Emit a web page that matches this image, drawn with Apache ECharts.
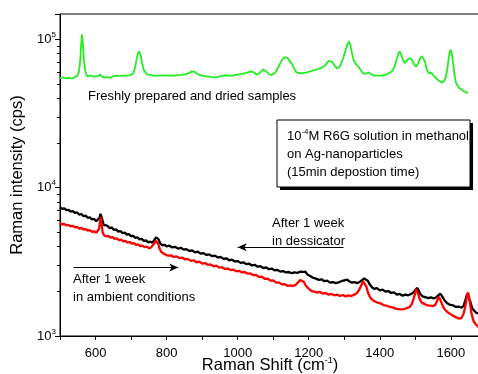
<!DOCTYPE html>
<html>
<head>
<meta charset="utf-8">
<script src="https://cdn.jsdelivr.net/npm/echarts@6/dist/echarts.min.js"></script>
<style>
  html, body { margin: 0; padding: 0; background: #fff; }
  #chart { width: 478px; height: 374px; }
</style>
</head>
<body>
<div id="chart"></div>
<script>
// freshly prepared sample (green)
const fresh = [
  [500,54800],[508,55300],[516,54600],[524,55000],[532,54500],[540,55200],[548,56500],[553,60000],[557,72000],[560,95000],
  [562,108000],[564,96000],[567,74000],[571,61000],[576,56500],[581,55500],[586,56800],[590,57500],[595,56000],[600,55500],
  [605,56200],[610,57500],[613,57800],[618,56000],[624,55300],[632,55600],[640,55200],[648,56000],[656,56800],[666,56600],
  [676,56900],[688,56800],[698,57300],[706,59000],[711,64000],[715,72000],[719,80000],[723,83000],[727,78000],[731,69000],
  [736,62000],[742,59000],[750,57500],[760,57000],[772,56800],[784,56900],[796,56800],[808,57000],[820,56900],[832,57300],
  [844,57600],[856,58200],[864,59300],[870,60500],[876,60800],[882,59500],[890,57800],[900,56800],[912,56300],[924,55800],
  [934,55400],[944,55800],[954,56500],[965,57200],[976,56800],[988,57000],[1000,57800],[1012,58500],[1024,59300],[1034,60200],
  [1041,60600],[1048,59300],[1054,57800],[1060,58500],[1066,61000],[1072,62600],[1077,62300],[1083,59800],[1090,57800],[1097,57600],
  [1104,59000],[1112,63000],[1120,69000],[1127,74000],[1134,75800],[1140,75000],[1147,71000],[1153,68000],[1159,63500],[1165,60000],
  [1172,59200],[1182,59000],[1192,59600],[1202,60400],[1214,61800],[1226,63000],[1236,64300],[1244,66000],[1250,68500],[1256,71500],
  [1261,72800],[1266,70500],[1272,66500],[1279,63800],[1286,64800],[1292,69000],[1298,76000],[1304,85000],[1309,93000],[1313,96500],
  [1317,92000],[1322,80000],[1327,71500],[1334,67500],[1341,65000],[1348,61000],[1355,58400],[1362,59000],[1368,59800],[1374,58500],
  [1382,57000],[1392,56800],[1402,56900],[1412,57200],[1422,58500],[1430,59800],[1436,61500],[1442,66000],[1448,74000],[1452,80000],
  [1456,82800],[1460,79000],[1465,72500],[1470,69000],[1475,70500],[1480,73500],[1486,74800],[1491,72000],[1497,67500],[1503,65500],
  [1508,68500],[1513,74000],[1518,77000],[1522,77200],[1527,71000],[1532,63000],[1538,59000],[1545,59500],[1552,56500],[1559,54600],
  [1566,52500],[1575,51000],[1582,52500],[1587,57000],[1591,66000],[1595,78000],[1599,85000],[1602,82000],[1606,70000],[1610,58000],
  [1614,51500],[1619,48500],[1624,46800],[1630,45800],[1636,44800],[1642,44000],[1648,43300]
];

// after 1 week in dessicator (black)
const dessicator = [
  [500,7380],[506,7200],[512,7260],[518,7050],[524,7080],[530,6880],[536,6950],[542,6760],[548,6800],[554,6580],
  [560,6640],[566,6420],[572,6480],[578,6260],[584,6300],[590,6100],[596,6150],[602,5950],[607,5980],[611,6250],
  [614,6650],[616,6720],[619,6100],[623,5600],[628,5480],[634,5520],[640,5330],[646,5380],[652,5180],[658,5230],
  [664,5050],[670,5100],[676,4940],[682,4980],[688,4820],[694,4860],[700,4700],[706,4740],[712,4590],[718,4630],
  [724,4480],[730,4520],[736,4380],[742,4410],[748,4280],[754,4320],[760,4260],[765,4420],[770,4620],[773,4690],
  [777,4500],[782,4220],[788,4080],[794,4120],[800,4020],[808,4060],[816,3950],[824,3990],[832,3880],[840,3930],
  [848,3820],[856,3850],[864,3740],[872,3770],[880,3660],[888,3700],[896,3590],[904,3620],[912,3520],[920,3550],
  [928,3450],[936,3480],[944,3380],[952,3410],[960,3310],[968,3340],[976,3240],[984,3270],[992,3180],[1000,3200],
  [1008,3110],[1016,3140],[1024,3050],[1032,3080],[1040,2990],[1048,3020],[1056,2930],[1064,2960],[1072,2870],[1080,2900],
  [1088,2820],[1096,2850],[1104,2770],[1112,2790],[1120,2720],[1128,2740],[1136,2680],[1144,2700],[1152,2650],[1160,2680],
  [1168,2660],[1176,2720],[1184,2700],[1190,2720],[1196,2600],[1204,2540],[1212,2470],[1220,2440],[1228,2390],[1236,2410],
  [1244,2340],[1252,2360],[1260,2290],[1268,2310],[1276,2270],[1284,2300],[1292,2340],[1300,2370],[1308,2400],[1314,2340],
  [1320,2290],[1328,2310],[1336,2270],[1344,2320],[1350,2380],[1356,2440],[1361,2470],[1366,2360],[1372,2220],[1378,2130],
  [1384,2080],[1392,2100],[1400,2030],[1408,2050],[1416,1990],[1424,2010],[1432,1950],[1440,1970],[1448,1900],[1456,1920],
  [1464,1870],[1472,1900],[1480,1880],[1488,1920],[1494,1960],[1500,2040],[1505,2110],[1509,2030],[1514,1920],[1520,1850],
  [1528,1830],[1536,1800],[1544,1820],[1552,1790],[1558,1820],[1564,1870],[1570,1930],[1575,1860],[1582,1740],[1590,1660],
  [1598,1620],[1606,1610],[1614,1570],[1622,1580],[1630,1550],[1636,1600],[1641,1750],[1646,1930],[1650,1880],[1655,1700],
  [1660,1540],[1666,1480],[1672,1430],[1678,1420],[1684,1390]
];

// after 1 week in ambient conditions (red)
const ambient = [
  [500,5780],[506,5640],[512,5700],[518,5560],[524,5610],[530,5480],[536,5530],[542,5400],[548,5440],[554,5300],
  [560,5350],[566,5220],[572,5260],[578,5130],[584,5170],[590,5040],[596,5080],[602,4950],[607,4980],[610,5300],
  [613,6000],[615,6300],[617,5700],[620,5000],[624,4780],[630,4700],[636,4730],[642,4600],[648,4640],[654,4510],
  [660,4550],[666,4420],[672,4460],[678,4340],[684,4380],[690,4260],[696,4300],[702,4190],[708,4220],[714,4110],
  [720,4140],[726,4040],[732,4070],[738,3970],[744,4000],[750,3910],[756,3940],[761,4000],[765,4200],[769,4400],
  [772,4430],[776,4200],[780,3900],[785,3680],[790,3580],[796,3540],[804,3480],[812,3500],[820,3410],[828,3440],
  [836,3350],[844,3380],[852,3280],[860,3310],[868,3210],[876,3240],[884,3140],[892,3170],[900,3080],[908,3100],
  [916,3020],[924,3040],[932,2950],[940,2980],[948,2890],[956,2910],[964,2830],[972,2850],[980,2780],[988,2800],
  [996,2730],[1004,2750],[1012,2680],[1020,2700],[1028,2630],[1036,2640],[1044,2570],[1052,2580],[1060,2500],[1068,2510],
  [1076,2430],[1084,2440],[1092,2360],[1100,2370],[1108,2290],[1116,2300],[1124,2230],[1132,2240],[1140,2180],[1148,2190],
  [1156,2170],[1164,2220],[1170,2300],[1176,2380],[1181,2420],[1186,2320],[1192,2180],[1200,2080],[1208,2010],[1216,1990],
  [1224,1960],[1232,1980],[1240,1930],[1248,1950],[1256,1900],[1264,1920],[1272,1880],[1280,1900],[1288,1860],[1296,1890],
  [1304,1850],[1312,1880],[1320,1860],[1328,1900],[1336,1950],[1342,2050],[1348,2200],[1353,2330],[1357,2350],[1362,2160],
  [1367,1950],[1373,1820],[1380,1740],[1388,1700],[1396,1670],[1404,1650],[1412,1610],[1420,1600],[1428,1570],[1436,1560],
  [1444,1530],[1452,1520],[1460,1510],[1468,1520],[1476,1540],[1484,1570],[1490,1640],[1495,1780],[1500,1960],[1503,2070],
  [1507,1950],[1512,1780],[1518,1680],[1526,1640],[1534,1610],[1542,1600],[1550,1590],[1556,1620],[1561,1720],[1566,1840],
  [1570,1760],[1576,1620],[1582,1520],[1590,1450],[1598,1410],[1606,1370],[1614,1340],[1622,1310],[1630,1320],[1636,1420],
  [1641,1600],[1646,1900],[1649,1960],[1653,1720],[1658,1420],[1664,1260],[1670,1200],[1676,1160],[1684,1130]
];

// arrows under the two labels
const dessicatorArrow = [[1298, 3960], [1000, 3960]];
const ambientArrow = [[538, 2900], [833, 2900]];

const FONT = 'Liberation Sans';

const chart = echarts.init(document.getElementById('chart'));

const arrowLine = (pts) => ({
  silent: true,
  symbol: ['none', 'arrow'],
  symbolSize: [6, 9],
  label: { show: false },
  lineStyle: { color: '#000', width: 1, type: 'solid' },
  data: [[{ coord: pts[0] }, { coord: pts[1] }]]
});

chart.setOption({
  animation: false,
  textStyle: { fontFamily: FONT },
  grid: {
    left: 60, top: 14, right: -2, bottom: 38,
    outerBoundsMode: 'none',
    containLabel: false,
    show: true, borderColor: '#000', borderWidth: 1
  },
  xAxis: {
    type: 'value',
    min: 500, max: 1682, interval: 100,
    splitLine: { show: false },
    axisLine: { onZero: false, lineStyle: { color: '#000' } },
    axisTick: { length: 4, lineStyle: { color: '#000' } },
    axisLabel: {
      color: '#000', fontSize: 13, margin: 11,
      showMaxLabel: false,
      formatter: v => (v % 200 === 0 ? String(v) : '')
    },
    name: '{a|Raman Shift (cm}{s|-1}{a|)}',
    nameLocation: 'middle',
    nameGap: 20,
    nameMoveOverlap: false,
    nameTextStyle: {
      rich: {
        a: { fontSize: 16.5, color: '#000', fontFamily: FONT },
        s: { fontSize: 9, color: '#000', fontFamily: FONT, padding: [0, 0, 10, 0] }
      }
    }
  },
  yAxis: {
    type: 'log',
    logBase: 10,
    min: 1000, max: 148000,
    splitLine: { show: false },
    axisLine: { lineStyle: { color: '#000' } },
    axisTick: { length: 5, lineStyle: { color: '#000' } },
    minorTick: { show: true, splitNumber: 9, length: 3, lineStyle: { color: '#000' } },
    axisLabel: {
      margin: 4,
      showMaxLabel: false,
      formatter: v => {
        const e = Math.round(Math.log10(v));
        return '{b|10}{s|' + e + '}';
      },
      rich: {
        b: { fontSize: 13, color: '#000', fontFamily: FONT },
        s: { fontSize: 8, color: '#000', fontFamily: FONT, padding: [0, 0, 9, 0] }
      }
    },
    name: 'Raman intensity (cps)',
    nameLocation: 'middle',
    nameGap: 34,
    nameMoveOverlap: false,
    nameTextStyle: { fontSize: 16.5, color: '#000', fontFamily: FONT }
  },
  graphic: [
    {
      type: 'text', left: 88, top: 90,
      style: { text: 'Freshly prepared and dried samples', font: '13px "Liberation Sans"', fill: '#000' }
    },
    { type: 'rect', shape: { x: 280, y: 123, width: 193, height: 67 }, style: { fill: '#000' } },
    { type: 'rect', shape: { x: 277, y: 120, width: 193, height: 67 }, style: { fill: '#fff', stroke: '#000', lineWidth: 1 } },
    {
      type: 'text', left: 287, top: 128,
      style: {
        text: '{a|10}{s|-4}{a|M R6G solution in methanol}\n{a|on Ag-nanoparticles}\n{a|(15min depostion time)}',
        rich: {
          a: { fontSize: 13, fontFamily: FONT, fill: '#000', lineHeight: 18 },
          s: { fontSize: 8, fontFamily: FONT, fill: '#000', lineHeight: 18, padding: [0, 0, 8, 0] }
        }
      }
    },
    {
      type: 'text', left: 272, top: 214,
      style: { text: 'After 1 week\nin dessicator', font: '13px "Liberation Sans"', fill: '#000', lineHeight: 18 }
    },
    {
      type: 'text', left: 73, top: 270,
      style: { text: 'After 1 week\nin ambient conditions', font: '13px "Liberation Sans"', fill: '#000', lineHeight: 18 }
    }
  ],
  series: [
    {
      name: 'fresh', type: 'line', data: fresh, showSymbol: false,
      lineStyle: { color: '#22ee22', width: 1.8 }
    },
    {
      name: 'dessicator', type: 'line', data: dessicator, showSymbol: false,
      lineStyle: { color: '#000', width: 2.3 },
      markLine: arrowLine(dessicatorArrow)
    },
    {
      name: 'ambient', type: 'line', data: ambient, showSymbol: false,
      lineStyle: { color: '#f00', width: 2.3 },
      markLine: arrowLine(ambientArrow)
    }
  ]
});
</script>
</body>
</html>
